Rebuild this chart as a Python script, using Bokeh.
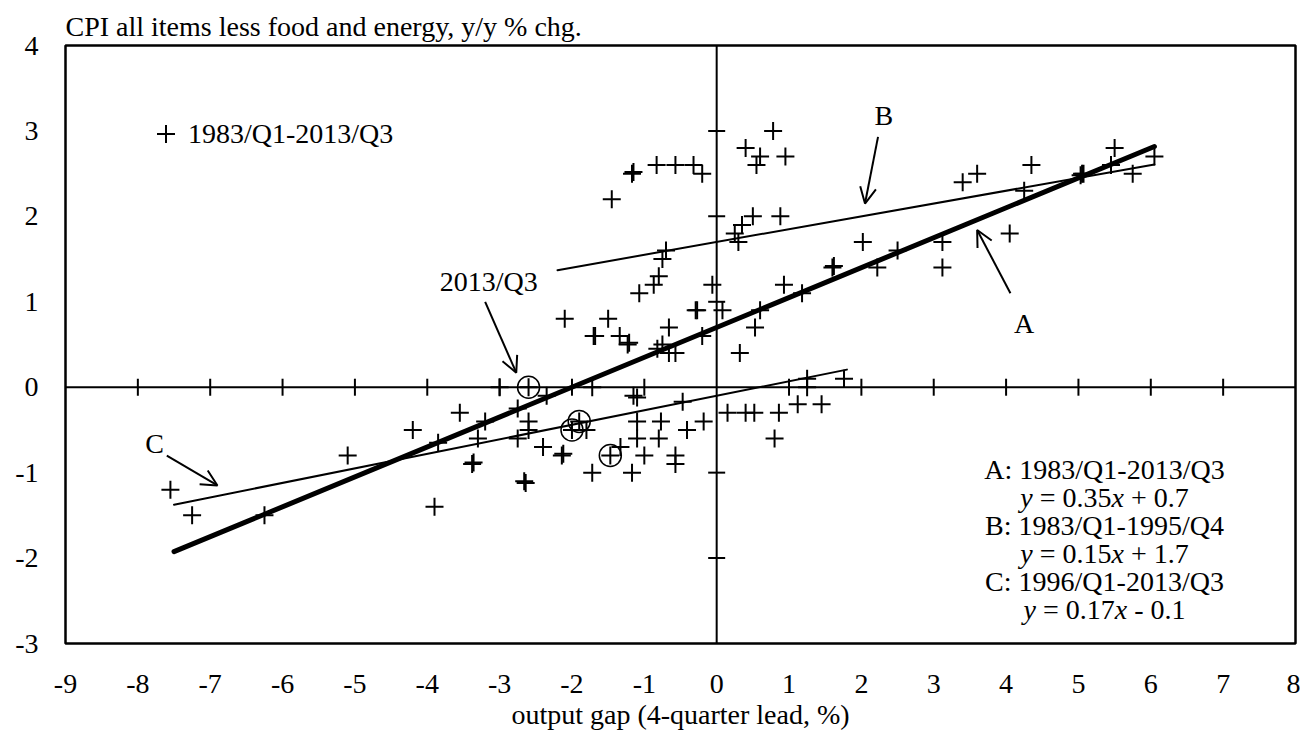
import math
from bokeh.plotting import figure
from bokeh.models import (Span, Label, Arrow, OpenHead, Legend, LegendItem,
                          FixedTicker, Range1d)
from bokeh.embed import file_html
from bokeh.resources import INLINE

# ---------------- data ----------------
gap_x = [-7.55, -7.25, -6.25, -5.1, -4.2, -3.85, -3.9, -3.55, -3.2, -3.3,
         -3.38, -3.36, -3.0, -2.75, -2.6, -2.6, -2.75, -2.66, -2.64, -2.4,
         -2.35, -2.14, -2.12, -2.0, -1.9, -1.8, -1.72, -1.72, -1.47, -1.33,
         -1.17, -1.15, -1.1, -1.1, -1.1, -1.0, -0.8, -0.77, -0.57, -0.57,
         -0.47, -0.41, -0.18, 0.15, 0.4, 0.52, 0.86, 0.8, 1.12, 1.45,
         1.25, 1.25, 1.76, -2.6, 0.32, -2.1, -1.5, -1.7, -1.68, -1.34,
         -1.23, -1.21, -0.82, -0.75, -0.66, -0.57, -0.66, -0.29, -0.27, -0.2,
         0.08, -0.06, 0.53, 0.6, 0.93, 1.18, -1.07, -0.87, -0.8, -0.75,
         -0.7, 0.3, 0.25, 0.35, 0.5, 0.88, -1.45, -1.17, -1.15, -0.83,
         -0.57, -0.32, -0.2, 0.55, 0.6, 0.4, 0.78, 0.95, 1.6, 1.62,
         2.02, 2.22, 2.5, 3.12, 3.12, 3.4, 3.6, 4.05, 4.25, 4.35,
         5.05, 5.07, 5.03, 5.45, 5.5, 5.75, 6.05]
cpi_y = [-1.2, -1.5, -1.5, -0.8, -0.5, -0.65, -1.4, -0.3, -0.4, -0.6,
         -0.9, -0.88, 0.0, -0.25, -0.4, -0.5, -0.6, -1.1, -1.12, -0.7,
         -0.1, -0.8, -0.78, -0.5, -0.4, -0.5, -1.0, 0.0, -0.8, -0.7,
         -1.0, -0.1, -0.12, -0.4, -0.6, -0.8, -0.6, -0.4, -0.8, -0.9,
         -0.17, -0.5, -0.4, -0.3, -0.3, -0.3, -0.3, -0.6, -0.2, -0.2,
         0.1, 0.0, 0.1, 0.0, 0.4, 0.8, 0.8, 0.6, 0.6, 0.6,
         0.5, 0.52, 0.45, 0.5, 0.4, 0.4, 0.7, 0.9, 0.9, 0.6,
         0.9, 1.2, 0.7, 0.9, 1.2, 1.1, 1.1, 1.2, 1.3, 1.5,
         1.6, 1.7, 1.8, 1.9, 2.0, 2.0, 2.2, 2.5, 2.52, 2.6,
         2.6, 2.6, 2.5, 2.6, 2.7, 2.8, 3.0, 2.7, 1.4, 1.42,
         1.7, 1.4, 1.6, 1.4, 1.7, 2.4, 2.5, 1.8, 2.3, 2.6,
         2.5, 2.5, 2.48, 2.6, 2.8, 2.5, 2.7]

# most recent quarters (circled)
latest_x = [-2.6, -2.0, -1.9, -1.47]
latest_y = [0.0, -0.5, -0.4, -0.8]

fit_names = ["A", "B", "C"]
fit_periods = ["1983/Q1-2013/Q3", "1983/Q1-1995/Q4", "1996/Q1-2013/Q3"]
fit_slope = [0.35, 0.15, 0.17]
fit_intercept = [0.7, 1.7, -0.1]
fit_x_from = [-7.5, -2.2, -7.5]
fit_x_to = [6.05, 6.05, 1.8]

x_ticks = [-9, -8, -7, -6, -5, -4, -3, -2, -1, 0, 1, 2, 3, 4, 5, 6, 7, 8]
x_tick_labels = ["-9", "-8", "-7", "-6", "-5", "-4", "-3", "-2", "-1",
                 "0", "1", "2", "3", "4", "5", "6", "7", "8"]
y_ticks = [-3, -2, -1, 0, 1, 2, 3, 4]
y_tick_labels = ["-3", "-2", "-1", "0", "1", "2", "3", "4"]

title_text = "CPI all items less food and energy, y/y % chg."
x_title = "output gap (4-quarter lead, %)"
series_label = "1983/Q1-2013/Q3"

# ---------------- style ----------------
FONT = "Liberation Serif"
SIZE_PX = 28
FS = f"{SIZE_PX}px"
INK = "black"

p = figure(width=1300, height=734,
           x_range=Range1d(x_ticks[0], x_ticks[-1]),
           y_range=Range1d(y_ticks[0], y_ticks[-1]),
           output_backend="svg", toolbar_location=None,
           min_border_left=65, min_border_right=5,
           min_border_top=45, min_border_bottom=91)
p.background_fill_color = "white"
p.border_fill_color = "white"
p.outline_line_color = INK
p.outline_line_width = 2.5
p.xgrid.visible = False
p.ygrid.visible = False

p.title.text = title_text
p.title.text_font = FONT
p.title.text_font_size = FS
p.title.text_font_style = "normal"
p.title.text_color = INK
p.title.align = "left"
p.title.standoff = 8

for ax in (p.xaxis[0], p.yaxis[0]):
    ax.axis_line_color = None
    ax.major_tick_line_color = None
    ax.minor_tick_line_color = None
    ax.major_tick_in = 0
    ax.major_tick_out = 0
    ax.minor_tick_in = 0
    ax.minor_tick_out = 0
    ax.major_label_text_font = FONT
    ax.major_label_text_font_size = FS
    ax.major_label_text_color = INK

p.xaxis.ticker = FixedTicker(ticks=x_ticks)
p.xaxis.major_label_overrides = dict(zip(x_ticks, x_tick_labels))
p.xaxis.major_label_standoff = 31
p.xaxis.axis_label = x_title
p.xaxis.axis_label_standoff = 3
p.xaxis.axis_label_text_font = FONT
p.xaxis.axis_label_text_font_size = FS
p.xaxis.axis_label_text_font_style = "normal"
p.xaxis.axis_label_text_color = INK

p.yaxis.ticker = FixedTicker(ticks=y_ticks)
p.yaxis.major_label_overrides = dict(zip(y_ticks, y_tick_labels))
p.yaxis.major_label_standoff = 27

# cross axes through the origin
p.add_layout(Span(location=0, dimension="height", line_color=INK, line_width=2))
p.add_layout(Span(location=0, dimension="width", line_color=INK, line_width=2))

# tick marks on the crossing axes
inner_x = [t for t in x_ticks if t not in (x_ticks[0], 0, x_ticks[-1])]
inner_y = [t for t in y_ticks if t not in (y_ticks[0], 0, y_ticks[-1])]
p.scatter(x=inner_x, y=[0] * len(inner_x), marker="dash", angle=math.pi / 2,
          size=17, line_color=INK, line_width=2)
p.scatter(x=[0] * len(inner_y), y=inner_y, marker="dash",
          size=17, line_color=INK, line_width=2)

# regression lines
fit_widths = {"A": 5, "B": 2, "C": 2}
for name, m, b, x0, x1 in zip(fit_names, fit_slope, fit_intercept, fit_x_from, fit_x_to):
    p.line([x0, x1], [m * x0 + b, m * x1 + b], line_color=INK,
           line_width=fit_widths[name], line_cap="round")

# scatter points
pts = p.scatter(gap_x, cpi_y, marker="cross", size=18, line_color=INK, line_width=2)
p.scatter(latest_x, latest_y, marker="circle", size=22, fill_color=None,
          line_color=INK, line_width=1.5)

# legend
legend = Legend(items=[LegendItem(label=series_label, renderers=[pts])],
                location=(78, 487), glyph_width=45, glyph_height=45,
                label_height=45, label_standoff=-6, padding=0, margin=0,
                spacing=0, border_line_color=None, background_fill_alpha=0,
                label_text_font=FONT, label_text_font_size=FS,
                label_text_color=INK)
p.add_layout(legend)

# annotations with arrows
def note(text, x, y):
    p.add_layout(Label(x=x, y=y, text=text, text_font=FONT, text_font_size=FS,
                       text_color=INK, text_align="center", text_baseline="middle"))

def arrow(x0, y0, x1, y1):
    p.add_layout(Arrow(end=OpenHead(size=16, line_width=2, line_color=INK),
                       x_start=x0, y_start=y0, x_end=x1, y_end=y1,
                       line_width=2, line_color=INK))

note("B", 2.31, 3.18)
arrow(2.23, 2.93, 2.05, 2.15)
note("A", 4.25, 0.75)
arrow(4.06, 1.1, 3.6, 1.84)
note("C", -7.77, -0.66)
arrow(-7.6, -0.8, -6.9, -1.15)
note("2013/Q3", -3.15, 1.24)
arrow(-3.2, 1.0, -2.77, 0.17)

# equation box (text only)
W = {" ": 0.25, "=": 0.564, "+": 0.564, "-": 0.333, ".": 0.25,
     "x": 0.444, "y": 0.444}

def width(s):
    return sum(W.get(c, 0.5) for c in s) * SIZE_PX

box_x = 5.36
box_top = -0.96
box_step = 0.328
row = 0
for name, period, m, b in zip(fit_names, fit_periods, fit_slope, fit_intercept):
    yy = box_top - row * box_step
    p.add_layout(Label(x=box_x, y=yy, text=f"{name}: {period}", text_font=FONT,
                       text_font_size=FS, text_color=INK, text_align="center",
                       text_baseline="middle"))
    row += 1
    yy = box_top - row * box_step
    sign = "+" if b >= 0 else "-"
    # (text, style, leading gap in em)
    pieces = [("y", "italic", 0.0), (f"= {m:g}", "normal", 0.25),
              ("x", "italic", 0.0), (f"{sign} {abs(b):g}", "normal", 0.25)]
    total = sum(width(t) + g * SIZE_PX for t, _, g in pieces)
    off = -total / 2
    for t, st, g in pieces:
        off += g * SIZE_PX
        p.add_layout(Label(x=box_x, y=yy, x_offset=off, text=t, text_font=FONT,
                           text_font_size=FS, text_font_style=st, text_color=INK,
                           text_align="left", text_baseline="middle"))
        off += width(t)
    row += 1

open("out.html", "w").write(file_html(p, INLINE))
